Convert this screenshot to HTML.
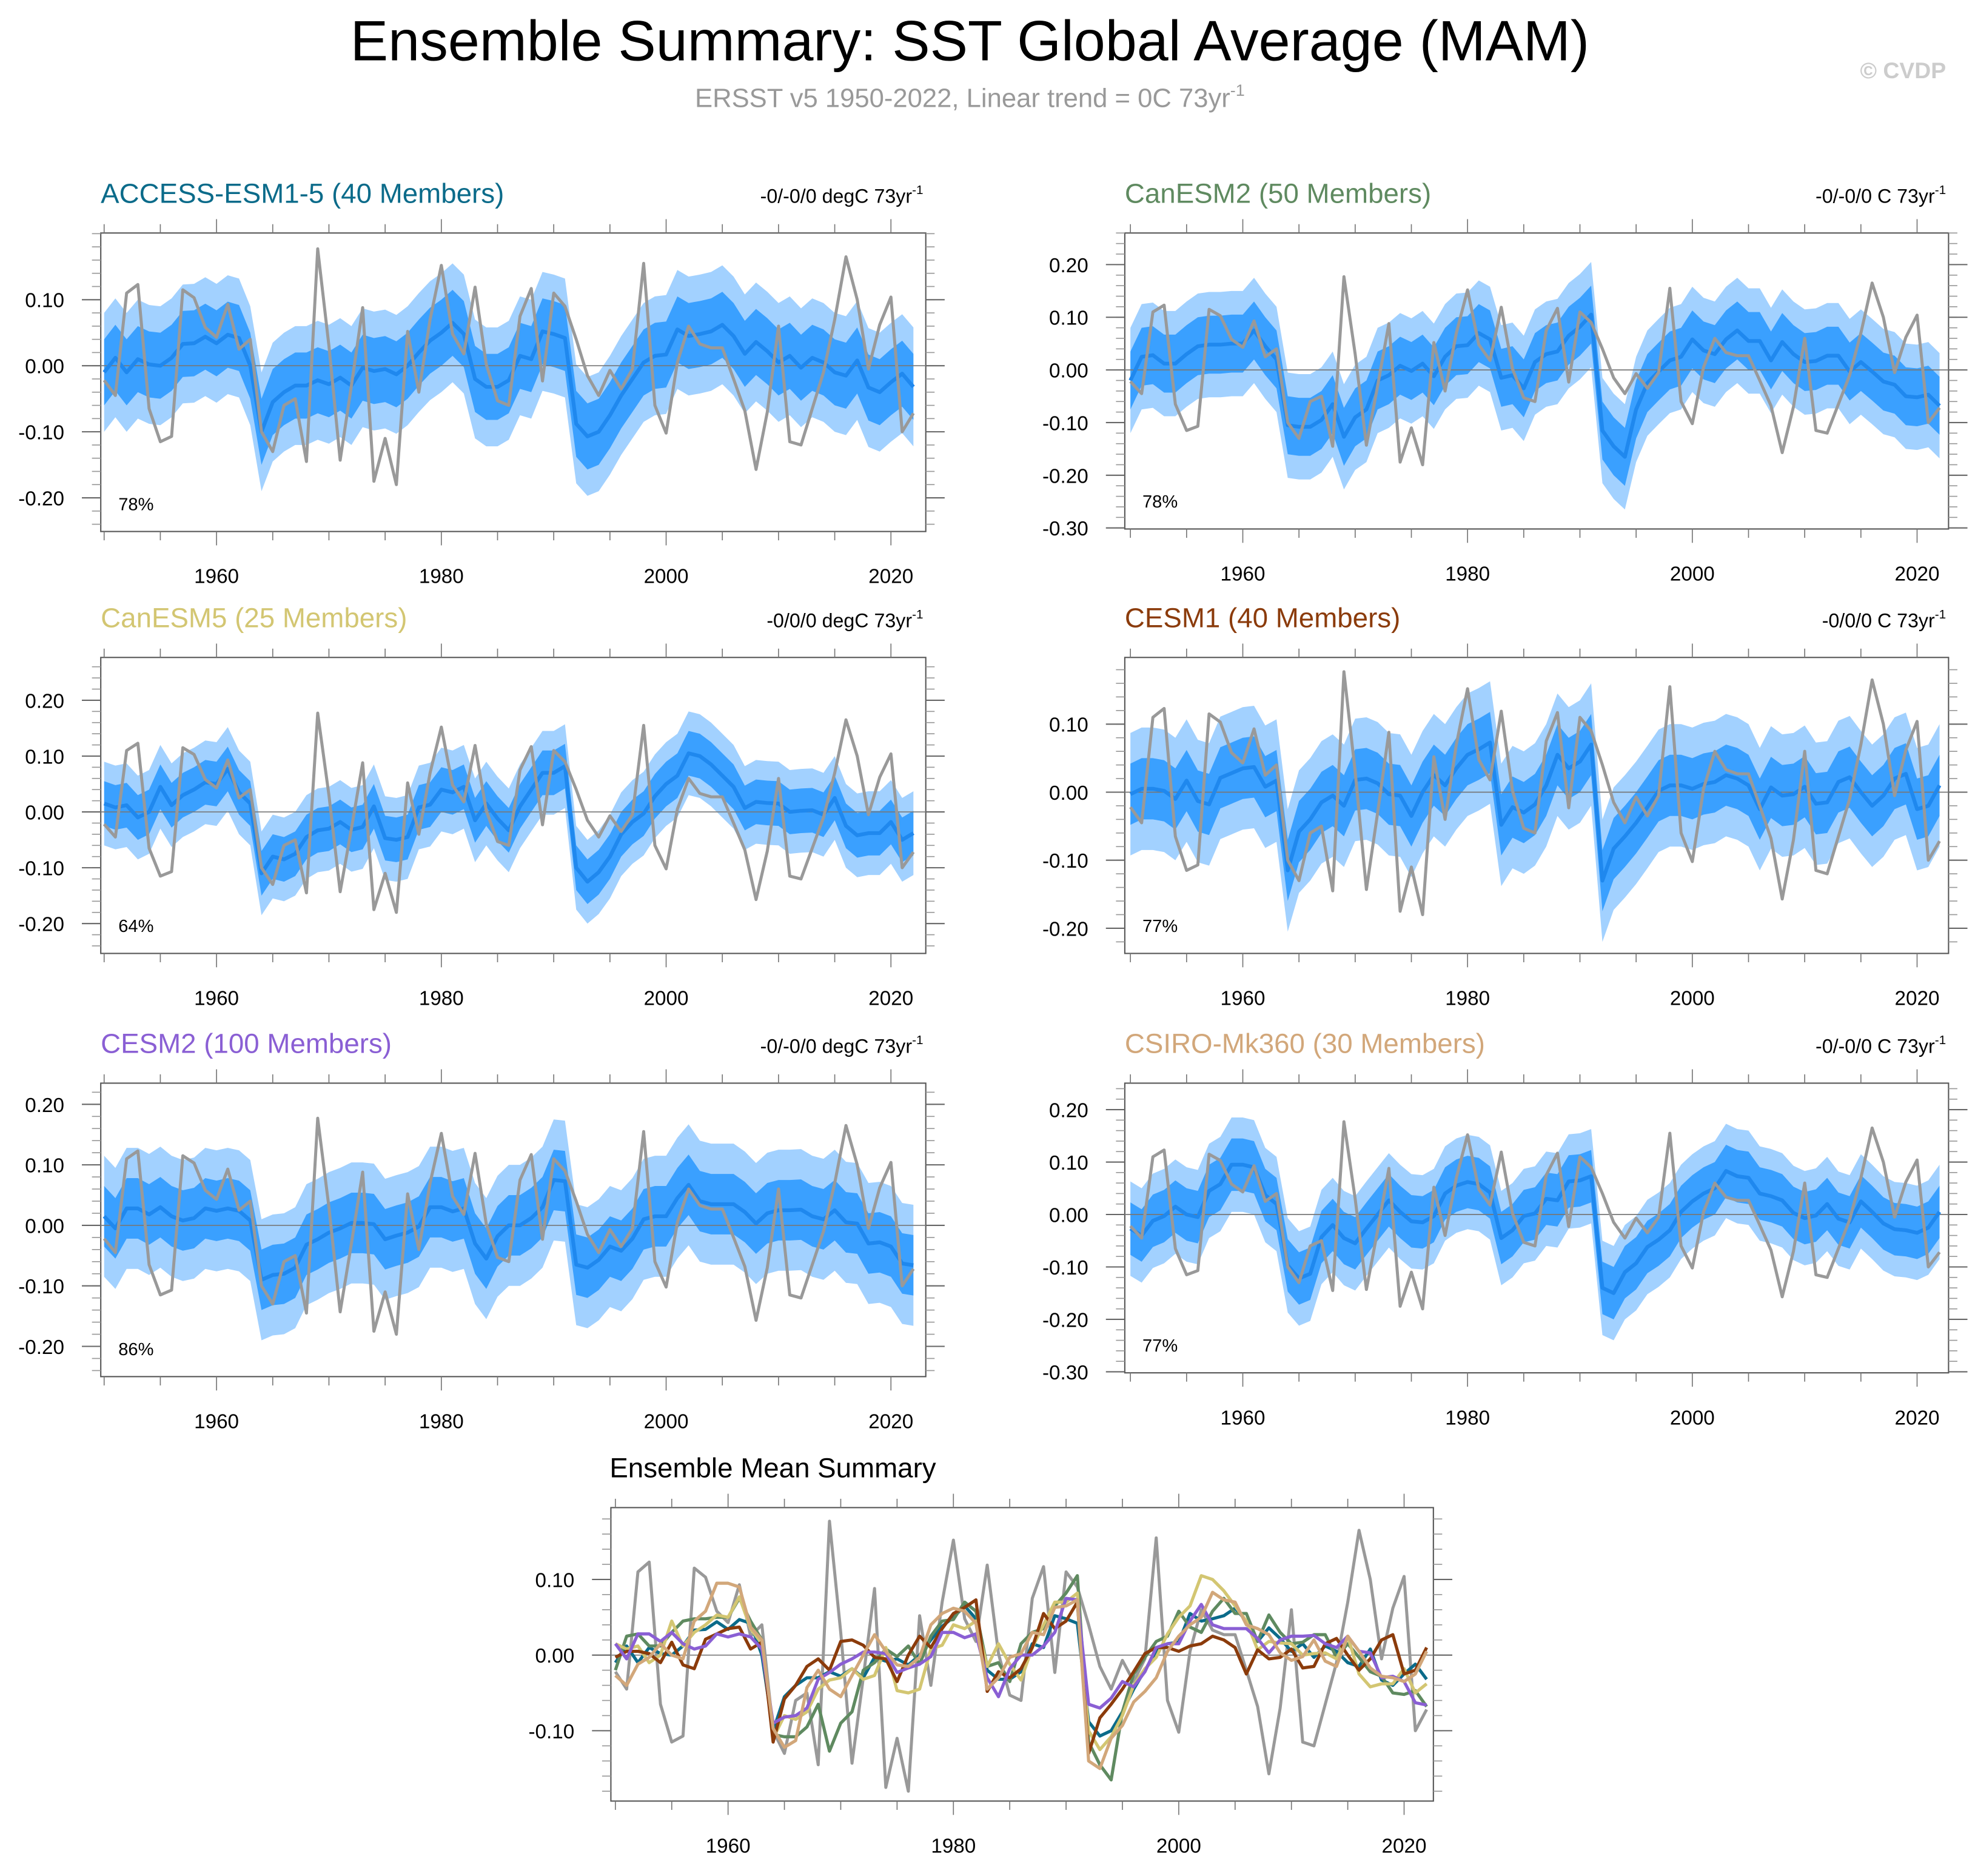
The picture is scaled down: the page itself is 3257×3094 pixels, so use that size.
<!DOCTYPE html>
<html><head><meta charset="utf-8"><title>Ensemble Summary: SST Global Average (MAM)</title>
<style>html,body{margin:0;padding:0;background:#fff}svg{display:block}text{font-family:"Liberation Sans",Arial,sans-serif}</style>
</head><body>
<svg id="chart" xmlns="http://www.w3.org/2000/svg" width="3257" height="3094" viewBox="0 0 1568 1489.5" preserveAspectRatio="none">
<text x="770" y="48" font-size="45" text-anchor="middle" fill="#000">Ensemble Summary: SST Global Average (MAM)</text>
<text x="770" y="85" font-size="21" text-anchor="middle" fill="#999">ERSST v5 1950-2022, Linear trend = 0C 73yr<tspan font-size="13" dy="-9">-1</tspan></text>
<text x="1545" y="62" font-size="18" font-weight="bold" text-anchor="end" fill="#ccc">© CVDP</text>
<g id="plots"></g>
</svg>
<script>
const years = [];
for (let y = 1950; y <= 2022; y++) years.push(y);
const obs = [-0.022,-0.045,0.11,0.123,-0.065,-0.115,-0.107,0.115,0.103,0.058,0.043,0.093,0.025,0.04,-0.1,-0.13,-0.06,-0.05,-0.145,0.177,0.03,-0.143,-0.03,0.088,-0.175,-0.11,-0.18,0.052,-0.04,0.07,0.152,0.048,0.018,0.119,0.002,-0.053,-0.06,0.075,0.117,-0.023,0.11,0.09,0.04,-0.015,-0.045,-0.007,-0.035,-0.005,0.155,-0.06,-0.102,0.005,0.06,0.033,0.027,0.027,-0.02,-0.068,-0.157,-0.07,0.06,-0.115,-0.12,-0.065,-0.01,0.07,0.165,0.1,-0.005,0.062,0.104,-0.1,-0.072];
const meanACCESS = [-0.01,0.012,-0.01,0.01,0.002,0,0.012,0.033,0.034,0.044,0.034,0.047,0.042,0.0,-0.1,-0.055,-0.04,-0.03,-0.03,-0.022,-0.028,-0.018,-0.03,-0.003,-0.008,-0.005,-0.013,0.0,0.02,0.038,0.05,0.065,0.048,-0.02,-0.032,-0.032,-0.022,0.015,0.01,0.052,0.048,0.042,-0.088,-0.107,-0.1,-0.075,-0.045,-0.02,0.005,0.015,0.017,0.055,0.045,0.048,0.052,0.062,0.045,0.018,0.036,0.022,0.005,0.015,-0.003,0.012,0.005,-0.01,-0.015,0.008,-0.033,-0.04,-0.025,-0.012,-0.032];
const meanCanESM2 = [-0.02,0.025,0.028,0.012,0.012,0.03,0.045,0.048,0.048,0.05,0.05,0.075,0.045,0.02,-0.105,-0.108,-0.108,-0.095,-0.065,-0.127,-0.09,-0.075,-0.02,-0.01,0.008,-0.002,0.012,-0.012,0.025,0.045,0.047,0.07,0.058,-0.015,-0.01,-0.035,0.015,0.03,0.035,0.065,0.082,0.105,-0.115,-0.145,-0.165,-0.075,-0.025,-0.003,0.018,0.025,0.058,0.037,0.03,0.058,0.075,0.055,0.055,0.018,0.053,0.03,0.015,0.017,0.027,0.027,-0.003,0.015,-0.003,-0.022,-0.028,-0.05,-0.052,-0.047,-0.068];
const meanCanESM5 = [0.015,0.008,0.012,-0.01,0.0,0.045,0.012,0.03,0.04,0.053,0.05,0.077,0.035,0.015,-0.11,-0.08,-0.085,-0.075,-0.045,-0.033,-0.03,-0.018,-0.032,-0.027,0.01,-0.047,-0.05,-0.045,0.008,0.013,0.04,0.035,0.045,-0.015,0.015,-0.012,-0.033,0.01,0.04,0.07,0.07,0.082,-0.1,-0.125,-0.108,-0.08,-0.04,-0.018,-0.003,0.028,0.05,0.065,0.105,0.1,0.085,0.065,0.045,0.007,0.018,0.016,0.015,0.0,0.002,0.003,-0.005,0.025,-0.025,-0.042,-0.038,-0.038,-0.018,-0.05,-0.038];
const meanCESM1 = [-0.003,0.005,0.005,0.002,-0.01,0.017,-0.013,-0.018,0.021,0.028,0.035,0.037,0.008,0.017,-0.115,-0.058,-0.04,-0.015,-0.005,-0.02,0.018,0.02,0.013,-0.003,-0.005,-0.035,0.0,0.025,0.01,0.035,0.055,0.063,0.073,-0.048,-0.022,-0.03,-0.018,0.01,0.055,0.035,0.045,0.07,-0.13,-0.083,-0.065,-0.045,-0.022,0.002,0.01,0.01,0.005,0.012,0.015,0.025,0.02,0.01,-0.025,0.007,-0.005,-0.003,0.008,-0.017,-0.015,0.015,0.022,0.0,-0.02,-0.005,0.02,0.027,-0.025,-0.02,0.01];
const meanCESM2 = [0.015,-0.005,0.028,0.028,0.018,0.03,0.015,0.008,0.012,0.028,0.024,0.028,0.024,0.008,-0.09,-0.082,-0.08,-0.07,-0.032,-0.023,-0.012,-0.005,0.004,0.004,0.002,-0.023,-0.017,-0.012,-0.002,0.03,0.03,0.023,0.028,-0.03,-0.055,-0.018,0.0,0.0,0.012,0.03,0.075,0.073,-0.065,-0.07,-0.057,-0.035,-0.042,-0.022,0.01,0.015,0.015,0.045,0.067,0.04,0.035,0.035,0.035,0.022,0.003,0.02,0.025,0.025,0.026,0.015,0.01,0.025,0.005,0.003,-0.03,-0.028,-0.035,-0.063,-0.066];
const meanCSIRO = [-0.027,-0.04,-0.012,-0.003,0.015,0.0,-0.005,0.045,0.058,0.095,0.095,0.09,0.037,0.02,-0.097,-0.122,-0.113,-0.043,-0.02,-0.045,-0.055,-0.027,0.0,0.027,0.005,-0.013,-0.015,-0.003,0.04,0.055,0.062,0.058,0.042,-0.045,-0.03,-0.003,0.002,0.03,0.027,0.063,0.065,0.073,-0.14,-0.15,-0.11,-0.093,-0.062,-0.048,-0.03,0.005,0.025,0.04,0.05,0.083,0.073,0.07,0.04,0.035,0.027,0.003,-0.007,-0.002,0.02,-0.008,-0.015,0.025,0.005,-0.017,-0.028,-0.03,-0.035,-0.025,0.005];
const modelNames = ["ACCESS-ESM1-5 (40 Members)","CanESM2 (50 Members)","CanESM5 (25 Members)","CESM1 (40 Members)","CESM2 (100 Members)","CSIRO-Mk360 (30 Members)"];
const percentLabels = ["78%","78%","64%","77%","86%","77%"];
const trendLabels = ["-0/-0/0 degC 73yr","-0/-0/0 C 73yr","-0/0/0 degC 73yr","-0/0/0 C 73yr","-0/-0/0 degC 73yr","-0/-0/0 C 73yr"];
const innerSpread = [0.05,0.055,0.04,0.045,0.05,0.05];
const outerSpread = [0.09,0.1,0.075,0.09,0.1,0.09];
const yTicksA = [-0.2,-0.1,0,0.1];
const yTicksB = [-0.3,-0.2,-0.1,0,0.1,0.2];
const yTicksC = [-0.2,-0.1,0,0.1,0.2];
const yTicksSummary = [-0.1,0,0.1];
const xTickYears = [1960,1980,2000,2020];
const modelColors = ["#0b6b8a","#5f8a60","#d3c672","#8b3b0b","#8a5fd4","#d2a77a"];

const NS = "http://www.w3.org/2000/svg";
const root = document.getElementById("plots");
function mk(tag, attrs, parent) {
  const e = document.createElementNS(NS, tag);
  for (const k in attrs) e.setAttribute(k, attrs[k]);
  (parent || root).appendChild(e);
  return e;
}
const means = [meanACCESS, meanCanESM2, meanCanESM5, meanCESM1, meanCESM2, meanCSIRO];
const boxes = [
  {x0:80,x1:735,y0:185,y1:422,vmin:-0.251,vmax:0.201,xmin:1949.7,xmax:2023.1,ticks:yTicksA},
  {x0:893,x1:1547,y0:185,y1:420,vmin:-0.302,vmax:0.26,xmin:1949.5,xmax:2022.8,ticks:yTicksB},
  {x0:80,x1:735,y0:522,y1:757,vmin:-0.2535,vmax:0.2767,xmin:1949.7,xmax:2023.1,ticks:yTicksC},
  {x0:893,x1:1547,y0:522,y1:757,vmin:-0.237,vmax:0.198,xmin:1949.5,xmax:2022.8,ticks:yTicksA},
  {x0:80,x1:735,y0:860,y1:1093,vmin:-0.25,vmax:0.235,xmin:1949.7,xmax:2023.1,ticks:yTicksC},
  {x0:893,x1:1547,y0:860,y1:1090,vmin:-0.302,vmax:0.2505,xmin:1949.5,xmax:2022.8,ticks:yTicksB}
];
function scales(b) {
  return {
    sx: v => b.x0 + (v - b.xmin) / (b.xmax - b.xmin) * (b.x1 - b.x0),
    sy: v => b.y1 - (v - b.vmin) / (b.vmax - b.vmin) * (b.y1 - b.y0)
  };
}
function linePath(vals, s) {
  return vals.map((v, i) => (i ? "L" : "M") + s.sx(years[i]).toFixed(2) + "," + s.sy(v).toFixed(2)).join("");
}
function bandPath(vals, w, s) {
  const up = vals.map((v, i) => (i ? "L" : "M") + s.sx(years[i]).toFixed(2) + "," + s.sy(v + w).toFixed(2)).join("");
  let dn = "";
  for (let i = vals.length - 1; i >= 0; i--) dn += "L" + s.sx(years[i]).toFixed(2) + "," + s.sy(vals[i] - w).toFixed(2);
  return up + dn + "Z";
}
function axes(b, s, g, ticks) {
  const fr = mk("rect", {x:b.x0,y:b.y0,width:b.x1-b.x0,height:b.y1-b.y0,fill:"none",stroke:"#555","stroke-width":1}, g);
  
  
  for (let yr = 1950; yr <= 2020; yr += 5) {
    const x = s.sx(yr), major = (yr % 20 === 0);
    const L = major ? 11 : 7;
    mk("line", {x1:x,x2:x,y1:b.y0,y2:b.y0-L,stroke:"#777","stroke-width":0.8}, g);
    mk("line", {x1:x,x2:x,y1:b.y1,y2:b.y1+L,stroke:"#777","stroke-width":0.8}, g);
  }
  xTickYears.forEach(yr => {
    const t = mk("text", {x:s.sx(yr),y:b.y1+41,"font-size":16,"text-anchor":"middle",fill:"#000"}, g);
    
    
    t.textContent = yr;
  });
  for (let k = -20; k <= 20; k++) {
    const v = k * 0.02;
    if (v < b.vmin - 1e-9 || v > b.vmax + 1e-9) continue;
    const y = s.sy(v);
    mk("line", {x1:b.x0,x2:b.x0-7,y1:y,y2:y,stroke:"#999","stroke-width":0.8}, g);
    mk("line", {x1:b.x1,x2:b.x1+7,y1:y,y2:y,stroke:"#999","stroke-width":0.8}, g);
  }
  ticks.forEach(v => {
    const y = s.sy(v);
    mk("line", {x1:b.x0,x2:b.x0-15,y1:y,y2:y,stroke:"#666","stroke-width":1}, g);
    mk("line", {x1:b.x1,x2:b.x1+15,y1:y,y2:y,stroke:"#666","stroke-width":1}, g);
    const t = mk("text", {x:b.x0-29,y:y+6,"font-size":16,"text-anchor":"end",fill:"#000"}, g);
    
    
    t.textContent = v.toFixed(2);
  });
  const z = mk("line", {x1:b.x0,x2:b.x1,y1:s.sy(0),y2:s.sy(0),stroke:"#777","stroke-width":0.8}, g);
  
  
}

boxes.forEach((b, p) => {
  const s = scales(b);
  const g = mk("g", {});
  
  
  const ob = mk("path", {d:bandPath(means[p], outerSpread[p], s), fill:"#a2d1ff"}, g);
  
  
  const ib = mk("path", {d:bandPath(means[p], innerSpread[p], s), fill:"#3aa0ff"}, g);
  
  
  axes(b, s, g, b.ticks);
  const ml = mk("path", {d:linePath(means[p], s), fill:"none", stroke:"#1f88ee","stroke-width":3,"stroke-linejoin":"round"}, g);
  
  
  const ol = mk("path", {d:linePath(obs, s), fill:"none", stroke:"#999","stroke-width":2.4,"stroke-linejoin":"round"}, g);
  
  
  const tt = mk("text", {x:b.x0,y:b.y0-24,"font-size":22,fill:modelColors[p]}, g);
  
  
  tt.textContent = modelNames[p];
  const tr = mk("text", {x:b.x1-2,y:b.y0-24,"font-size":15.5,"text-anchor":"end",fill:"#000"}, g);
  
  
  tr.textContent = trendLabels[p];
  const sup = mk("tspan", {"font-size":10,dy:-7}, tr);
  sup.textContent = "-1";
  const pc = mk("text", {x:b.x0+14,y:b.y1-17,"font-size":14,fill:"#000"}, g);
  
  
  pc.textContent = percentLabels[p];
});

(function () {
  const b = {x0:485,x1:1138,y0:1197,y1:1430,vmin:-0.193,vmax:0.195,xmin:1949.6,xmax:2022.6};
  const s = scales(b);
  const g = mk("g", {});
  
  
  axes(b, s, g, yTicksSummary);
  const ol = mk("path", {d:linePath(obs, s), fill:"none", stroke:"#999","stroke-width":2.4,"stroke-linejoin":"round"}, g);
  
  
  means.forEach((m, i) => {
    const l = mk("path", {d:linePath(m, s), fill:"none", stroke:modelColors[i],"stroke-width":2.5,"stroke-linejoin":"round"}, g);
    
    
  });
  const t = mk("text", {x:484,y:1173,"font-size":22,fill:"#000"}, g);
  
  
  t.textContent = "Ensemble Mean Summary";
})();
</script>
</body></html>
